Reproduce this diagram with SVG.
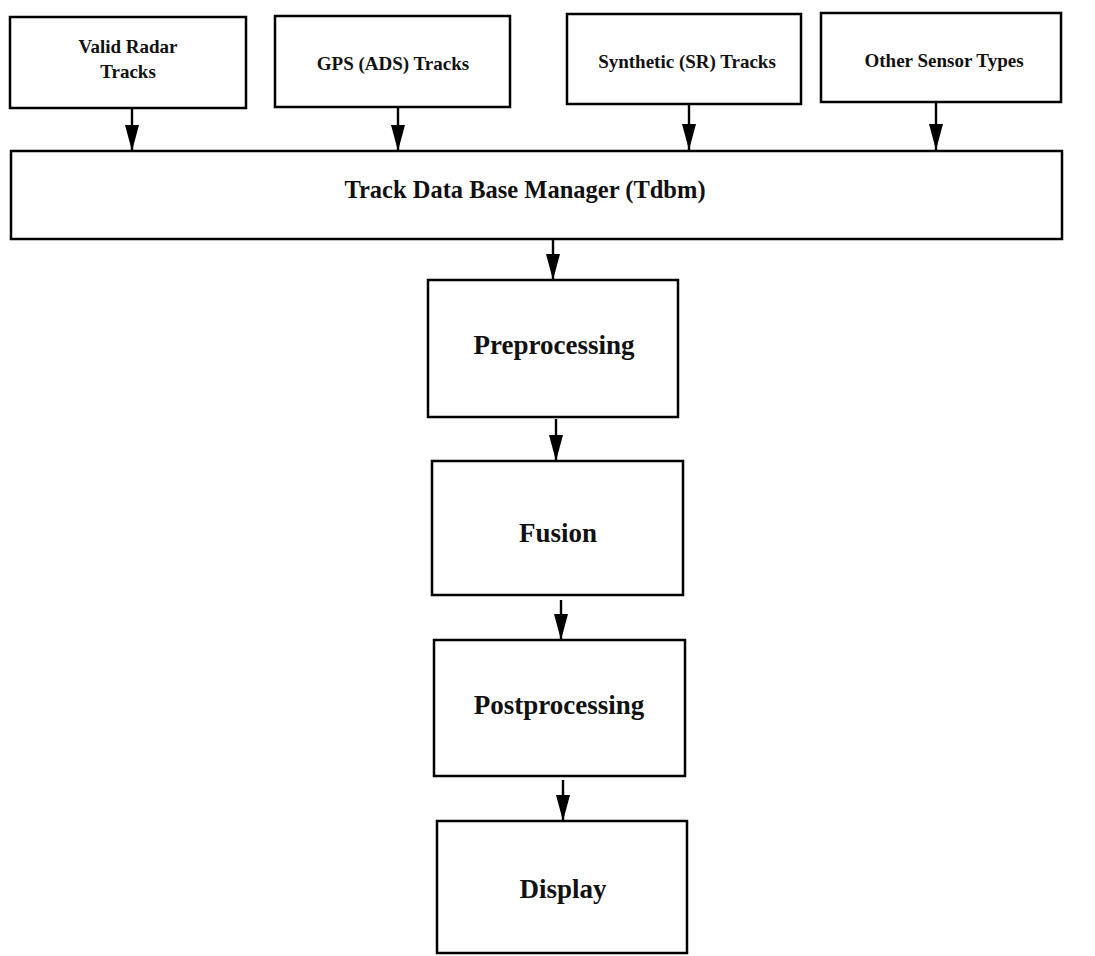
<svg xmlns="http://www.w3.org/2000/svg" width="1095" height="956" viewBox="0 0 1095 956">
<style>
.box{fill:#fff;stroke:#000;stroke-width:2.5}
.t{font-family:"Liberation Serif","Times New Roman",serif;font-weight:bold;fill:#111;text-anchor:middle}
.s{font-size:19px}
.m{font-size:24.5px}
.l{font-size:27px}
.c{stroke:#000;stroke-width:2.4;fill:none;marker-end:url(#ah)}
</style>
<defs>
<marker id="ah" markerUnits="userSpaceOnUse" markerWidth="28" markerHeight="16" refX="26" refY="7" orient="auto">
<path d="M0,0 L26,7 L0,14 Z" fill="#000"/>
</marker>
</defs>
<rect width="1095" height="956" fill="#fff"/>
<g id="n-radar"><rect class="box" x="10" y="17" width="236" height="91"/><text class="t s" x="128" y="53">Valid Radar</text><text class="t s" x="128" y="78">Tracks</text></g>
<g id="n-gps"><rect class="box" x="275" y="16" width="235" height="91"/><text class="t s" x="393" y="70">GPS (ADS) Tracks</text></g>
<g id="n-synth"><rect class="box" x="567" y="14" width="234" height="90"/><text class="t s" x="687" y="68">Synthetic (SR) Tracks</text></g>
<g id="n-other"><rect class="box" x="821" y="13" width="240" height="89"/><text class="t s" x="944" y="67">Other Sensor Types</text></g>
<g id="n-tdbm"><rect class="box" x="11" y="151" width="1051" height="88"/><text class="t m" x="525" y="198">Track Data Base Manager (Tdbm)</text></g>
<g id="n-pre"><rect class="box" x="428" y="280" width="250" height="137"/><text class="t l" x="554" y="354">Preprocessing</text></g>
<g id="n-fusion"><rect class="box" x="432" y="461" width="251" height="134"/><text class="t l" x="558" y="542">Fusion</text></g>
<g id="n-post"><rect class="box" x="434" y="640" width="251" height="136"/><text class="t l" x="559" y="714">Postprocessing</text></g>
<g id="n-display"><rect class="box" x="437" y="821" width="250" height="132"/><text class="t l" x="563" y="898">Display</text></g>
<g id="connectors">
<line class="c" x1="132" y1="108" x2="132" y2="151"/>
<line class="c" x1="398" y1="107" x2="398" y2="151"/>
<line class="c" x1="689" y1="104" x2="689" y2="150"/>
<line class="c" x1="936" y1="102" x2="936" y2="150"/>
<line class="c" x1="553" y1="239" x2="553" y2="280"/>
<line class="c" x1="556" y1="419" x2="556" y2="461"/>
<line class="c" x1="561" y1="600" x2="561" y2="640"/>
<line class="c" x1="563" y1="780" x2="563" y2="821"/>
</g>
</svg>
